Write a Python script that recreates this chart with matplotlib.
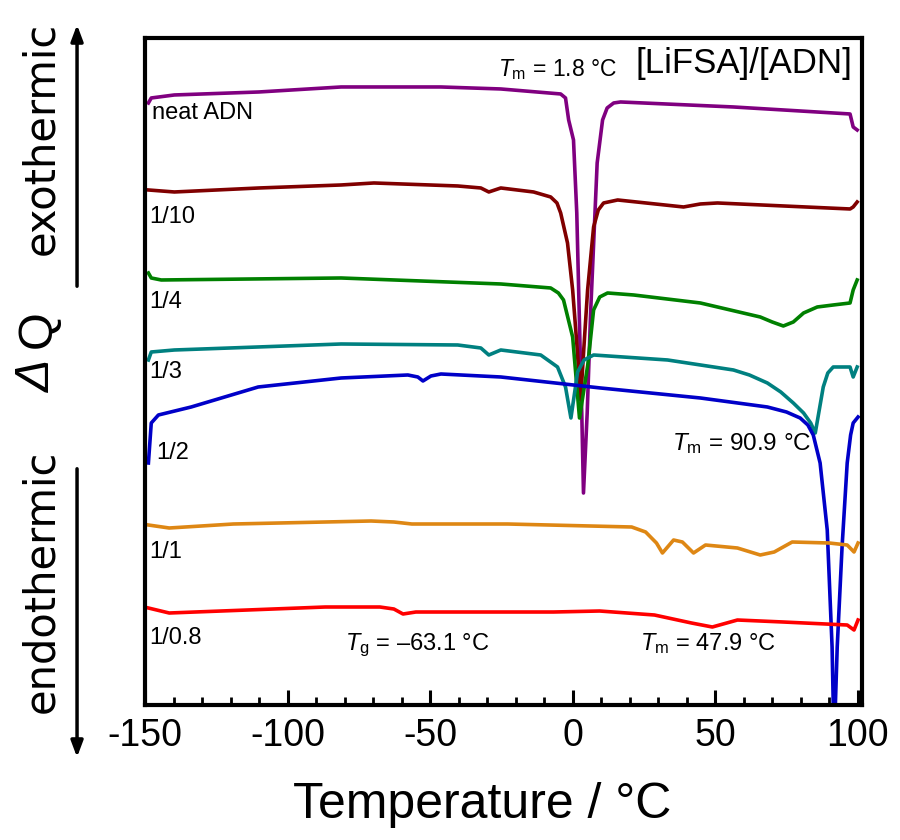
import matplotlib
matplotlib.use("Agg")
import matplotlib.pyplot as plt
from matplotlib.patches import FancyArrowPatch
from matplotlib.ticker import MultipleLocator

# temperature (deg C) / heat flow (arbitrary, stacked)
t_neat = [-148.8, -147.8, -139.7, -110, -81.2, -46.2, -25.2, -4.2, -2.5, -1.4, 0.3, 1.45, 2.6, 3.2, 3.8,
          5.1, 6.3, 8.6, 10.5, 12.1, 14.4, 16.8, 56.4, 97.3, 98.4, 99.8]
q_neat = [602, 607, 610, 613, 618, 618, 616, 611, 607, 585, 565, 492, 358, 292, 212,
          292, 392, 542, 585, 597, 602, 603, 598, 591, 578, 575]

t_10 = [-148.8, -139.7, -110, -81.2, -69.7, -40.3, -32.2, -29.4, -25.2, -13.7, -7.7, -5.5, -4.2, -1.8, 0,
        1.5, 2.8, 4.0, 5.25, 7.35, 9.0, 10.85, 15.8, 38.9, 44.8, 50.8, 97.3, 98.4, 99.8]
q_10 = [515, 513, 517, 520, 522, 519, 517, 513, 517, 513, 508, 502, 492, 462, 415,
        360, 305, 360, 415, 478, 495, 502, 505, 498, 501, 502, 496, 498, 503]

t_4 = [-148.8, -147.8, -144.3, -81.2, -25.2, -7.7, -5.0, -3.2, 0, 2.4, 5.3, 7.35, 9.5, 12.25, 21.4,
       44.8, 65.8, 70.0, 73.9, 77.4, 81.0, 85.8, 91.4, 97.3, 98.4, 99.8]
q_4 = [432, 427, 425, 427, 421, 417, 412, 405, 368, 287, 340, 395, 408, 412, 410,
       402, 388, 383, 379, 383, 392, 398, 400, 402, 415, 425]

t_3 = [-148.8, -147.8, -139.7, -81.2, -40.3, -32.2, -29.4, -25.2, -11.2, -5.3, -2.5, -0.6, 1.75, 4.0,
       7.35, 33.3, 56.4, 62.0, 68.3, 73.0, 77.4, 81.0, 83.5, 85.1, 87.9, 89.5, 91.4, 97.3, 98.4, 99.8]
q_3 = [345, 353, 355, 361, 360, 357, 350, 355, 350, 338, 318, 287, 333, 345,
       350, 345, 335, 330, 322, 313, 302, 292, 282, 272, 318, 332, 338, 338, 328, 338]

t_2 = [-148.8, -147.8, -145.3, -133.8, -110.3, -81.2, -57.8, -54.3, -52.5, -49.7, -46.2, -25.2, 9.8,
       44.8, 68.3, 75.0, 79.8, 82.5, 84.4, 86.8, 89.3, 91.0, 91.7, 92.8, 94.5, 96.3, 97.5, 98.4, 100.1]
q_2 = [242, 282, 290, 298, 318, 327, 330, 328, 324, 329, 331, 328, 317,
       307, 298, 293, 287, 280, 270, 242, 175, 58, -40, 58, 158, 242, 270, 282, 288]

t_1 = [-148.8, -141.5, -119.0, -70.7, -62.7, -56.4, -22.8, 20.7, 25.6, 29.4, 31.5, 35.4, 38.5, 42.4,
       46.6, 57.8, 65.8, 70.7, 77.0, 90.0, 96.3, 98.7, 100.1]
q_1 = [180, 177, 181, 184, 183, 181, 181, 178, 173, 162, 152, 165, 163, 152,
       160, 157, 150, 153, 163, 162, 160, 153, 162]

t_08 = [-148.8, -141.5, -86.8, -67.6, -62.7, -59.5, -55.0, -6.7, 9.45, 28.7, 41.7, 49.0, 57.8, 73.9,
        96.3, 98.7, 100.1]
q_08 = [97, 92, 98, 98, 96, 91, 93, 93, 94, 90, 82, 78, 85, 83, 80, 75, 85]

series = [
    (t_neat, q_neat, "#800080", "neat ADN", -147.4, 592),
    (t_10, q_10, "#800000", "1/10", -148.5, 488),
    (t_4, q_4, "#008000", "1/4", -148.5, 403),
    (t_3, q_3, "#008080", "1/3", -148.5, 333),
    (t_2, q_2, "#0000C8", "1/2", -146.0, 252),
    (t_1, q_1, "#DE8714", "1/1", -148.5, 153),
    (t_08, q_08, "#FF0000", "1/0.8", -148.5, 67),
]

plt.rcParams["font.family"] = ["Liberation Sans", "DejaVu Sans"]
plt.rcParams["mathtext.fontset"] = "custom"
plt.rcParams["mathtext.rm"] = "Liberation Sans"
plt.rcParams["mathtext.it"] = "Liberation Sans:italic"
plt.rcParams["axes.unicode_minus"] = False

fig = plt.figure(figsize=(9, 8.4), dpi=100)
ax = fig.add_axes([0.1611, 0.1607, 0.7967, 0.7941])

for t, q, color, label, lx, ly in series:
    ax.plot(t, q, color=color, lw=2.6, solid_joinstyle="round")
    ax.text(lx, ly, label, fontsize=17, ha="left", va="center")

ax.text(-26.3, 629, r"$T_\mathrm{m}$ = 1.8 °C", fontsize=16.5, va="baseline")
ax.text(98.0, 632, "[LiFSA]/[ADN]", fontsize=25, ha="right", va="baseline")
ax.text(35.0, 255, r"$T_\mathrm{m}$ = 90.9 °C", fontsize=17.5, va="baseline")
ax.text(-80.0, 55, r"$T_\mathrm{g}$ = –63.1 °C", fontsize=17, va="baseline")
ax.text(23.7, 55, r"$T_\mathrm{m}$ = 47.9 °C", fontsize=17, va="baseline")

ax.set_xlim(-150, 101.5)
ax.set_ylim(0, 667)
ax.set_yticks([])
ax.xaxis.set_major_locator(MultipleLocator(50))
ax.xaxis.set_minor_locator(MultipleLocator(10))
ax.tick_params(axis="x", which="major", direction="in", length=11, width=2.2, labelsize=27, pad=9)
ax.tick_params(axis="x", which="minor", direction="in", length=6, width=2.0)
for sp in ax.spines.values():
    sp.set_linewidth(3)

ax.set_xlabel("Temperature / °C", fontsize=36)
ax.xaxis.set_label_coords(0.47, -0.115)

# left side: direction of heat flow
fig.text(0.046, 0.835, "exothermic", rotation=90, fontsize=30, family="DejaVu Sans", ha="center", va="center")
fig.text(0.046, 0.308, "endothermic", rotation=90, fontsize=30, family="DejaVu Sans", ha="center", va="center")
fig.text(0.042, 1 - 376 / 840, "Δ", rotation=90, fontsize=35, style="italic", ha="center", va="center")
fig.text(0.042, 1 - 329 / 840, "Q", rotation=90, fontsize=35, ha="center", va="center")

for y0, y1 in [(1 - 289 / 840, 1 - 22 / 840), (1 - 466 / 840, 1 - 760 / 840)]:
    fig.add_artist(FancyArrowPatch((0.0856, y0), (0.0856, y1), transform=fig.transFigure,
                                   arrowstyle="-|>,head_length=0.8,head_width=0.3",
                                   mutation_scale=12, lw=2.5, color="black"))

fig.savefig("out.png", dpi=100)
